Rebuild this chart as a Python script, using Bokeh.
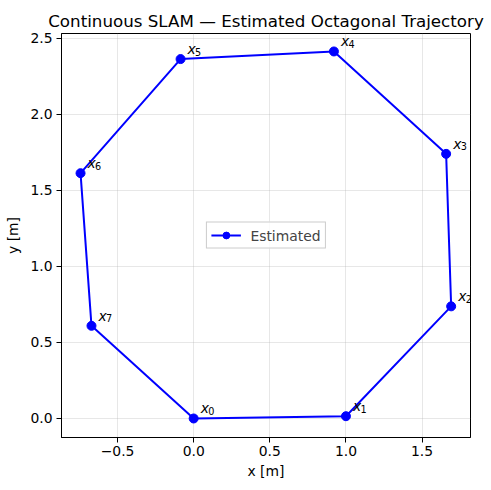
from bokeh.plotting import figure
from bokeh.models import Range1d, FixedTicker, Legend, LegendItem, ColumnDataSource
from bokeh.core.properties import value
from bokeh.embed import file_html
from bokeh.resources import INLINE

label_base = ["x"] * 8
label_sub = ["0", "1", "2", "3", "4", "5", "6", "7"]
xs = [0.0, 1.0, 1.691, 1.658, 0.921, -0.086, -0.743, -0.671]
ys = [0.0, 0.015, 0.737, 1.739, 2.412, 2.362, 1.612, 0.609]
x_ticks = [-0.5, 0.0, 0.5, 1.0, 1.5]
y_ticks = [0.0, 0.5, 1.0, 1.5, 2.0, 2.5]

FONT = "DejaVu Sans"

p = figure(width=491, height=490, output_backend="svg", toolbar_location=None,
           x_range=Range1d(-0.868, 1.818), y_range=Range1d(-0.125, 2.53),
           title="Continuous SLAM — Estimated Octagonal Trajectory",
           min_border_left=61, min_border_right=21, min_border_top=33, min_border_bottom=53)
p.title.align = "center"
p.title.text_font = FONT
p.title.text_font_size = "16.7px"
p.title.text_font_style = "normal"
p.title.text_color = "black"
p.title.standoff = 5
p.outline_line_color = "black"
p.outline_line_width = 1
p.background_fill_color = "white"

lx = xs + [xs[0]]
ly = ys + [ys[0]]
line = p.line(lx, ly, line_color="#0000ff", line_width=2)
pts = p.scatter(xs, ys, size=9, fill_color="#0000ff", line_color="#0000ff")

src = ColumnDataSource(dict(x=xs, y=ys, b=label_base, s=label_sub))
p.text(x="x", y="y", text="b", source=src, x_offset=7, y_offset=-10,
       text_font=value(FONT), text_font_style="italic", text_font_size="13.9px",
       text_color="black", text_baseline="alphabetic", text_align="left")
p.text(x="x", y="y", text="s", source=src, x_offset=14.5, y_offset=-7.5,
       text_font=value(FONT), text_font_style="normal", text_font_size="9.7px",
       text_color="black", text_baseline="alphabetic", text_align="left")

legend = Legend(items=[LegendItem(label="Estimated", renderers=[line, pts])],
                location="center", label_text_font=FONT, label_text_font_size="13.9px",
                border_line_color="#cccccc", border_line_width=1, border_line_alpha=1,
                background_fill_alpha=0.8, glyph_width=30, glyph_height=17,
                label_height=17, label_standoff=10,
                padding=4, margin=0, spacing=0)
p.add_layout(legend, "center")

for ax, ticks in ((p.xaxis, x_ticks), (p.yaxis, y_ticks)):
    ax.ticker = FixedTicker(ticks=ticks)
    ax.major_label_overrides = {t: (f"{t:.1f}".replace("-", "−")) for t in ticks}
    ax.major_label_text_font = FONT
    ax.major_label_text_font_size = "13.9px"
    ax.major_label_text_color = "black"
    ax.axis_label_text_font = FONT
    ax.axis_label_text_font_size = "13.9px"
    ax.axis_label_text_font_style = "normal"
    ax.axis_label_text_color = "black"
    ax.minor_tick_line_color = None
    ax.major_tick_out = 5
    ax.major_tick_in = 0
    ax.major_tick_line_color = "black"
    ax.axis_line_color = "black"
    ax.major_label_standoff = 4
p.xaxis.major_label_standoff = 3
p.xaxis.axis_label = "x [m]"
p.yaxis.axis_label = "y [m]"
p.xaxis.axis_label_standoff = 4
p.yaxis.axis_label_standoff = 6

p.grid.grid_line_color = "#b0b0b0"
p.grid.grid_line_alpha = 0.3
p.grid.grid_line_width = 1
p.xgrid.ticker = FixedTicker(ticks=x_ticks)
p.ygrid.ticker = FixedTicker(ticks=y_ticks)

open("out.html", "w").write(file_html(p, INLINE))
